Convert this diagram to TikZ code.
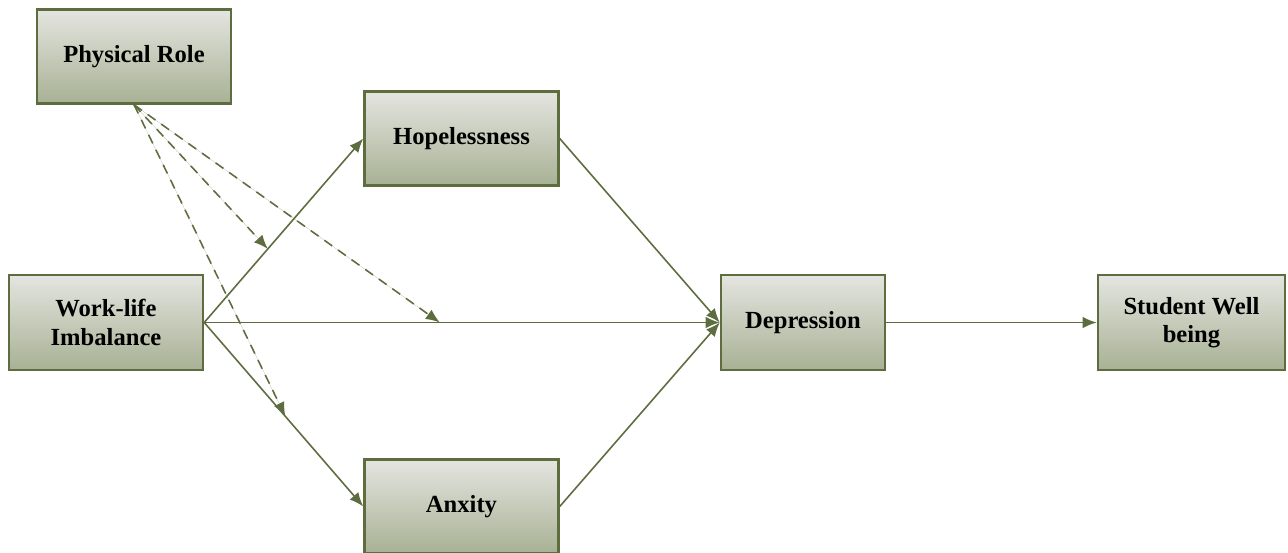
\documentclass[tikz,border=0pt]{standalone}
\usepackage{fontspec}
\setmainfont{Liberation Serif}
\usepackage{xcolor}
\usetikzlibrary{arrows.meta,positioning}
\definecolor{pmline}{HTML}{5E6D40}
\definecolor{pmtop}{HTML}{E4E5E0}
\definecolor{pmbot}{HTML}{A8B194}
\tikzset{
pmbox/.style={rectangle,draw=pmline,line width=1.4pt,top color=pmtop,bottom color=pmbot,align=center,inner sep=2pt,minimum width=3.88cm,minimum height=1.88cm,font=\fontsize{14}{16}\selectfont\bfseries},
pmarr/.style={-{Latex[length=8pt,width=6.5pt]},draw=pmline,fill=pmline,line width=0.9pt},
pmmod/.style={pmarr,dash pattern=on 5.5pt off 4pt}
}
\begin{document}
\begin{tikzpicture}[
x=0.02cm,
y=-0.02cm
]
\useasboundingbox (0,0) rectangle (1288,552);
\node[pmbox] (role) at (134,56.5) {Physical Role};
\node[pmbox] (hope) at (461.5,138.5) {Hopelessness};
\node[pmbox,minimum height=1.9cm] (wl) at (106,322.5) {Work-life\\Imbalance};
\node[pmbox,minimum width=3.28cm,minimum height=1.9cm] (dep) at (803,322.5) {Depression};
\node[pmbox,minimum width=3.74cm,minimum height=1.9cm] (swb) at (1191.5,322.5) {Student Well\\being};
\node[pmbox] (anx) at (461.5,506.5) {Anxity};
\draw[pmarr] (wl.east) -- coordinate[pos=0.40] (mhope) (hope.west);
\draw[pmarr] (wl.east) -- coordinate[pos=0.457] (mdep) (dep.west);
\draw[pmarr] (wl.east) -- coordinate[pos=0.51] (manx) (anx.west);
\draw[pmarr] (hope.east) -- (dep.west);
\draw[pmarr] (anx.east) -- (dep.west);
\draw[pmarr] (dep.east) -- (swb.west);
\draw[pmmod] (role.south) -- (mhope);
\draw[pmmod] (role.south) -- (mdep);
\draw[pmmod] (role.south) -- (manx);
\end{tikzpicture}
\end{document}
